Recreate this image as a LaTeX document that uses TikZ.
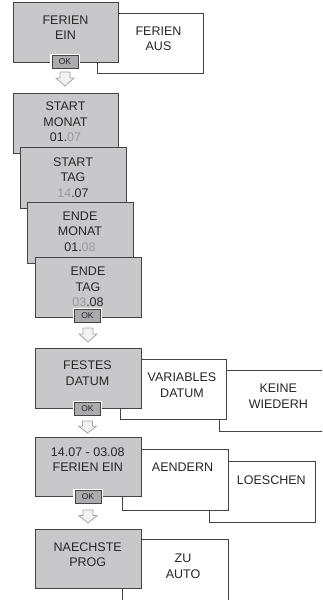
\documentclass[tikz,border=0pt]{standalone}
\usepackage{fontspec}
\setmainfont{Liberation Sans}
\definecolor{boxgray}{HTML}{C8C8CA}
\definecolor{okgray}{HTML}{ABABAD}
\definecolor{edge}{HTML}{444444}
\definecolor{txt}{HTML}{262626}
\definecolor{dim}{HTML}{9A9A9A}
\definecolor{arrowgray}{HTML}{A6A6A6}
\definecolor{arrowfill}{HTML}{F2F2F2}
\tikzset{
  panel/.style={draw=edge, line width=0.9pt, inner sep=0pt, outer sep=0pt},
  gbox/.style={panel, fill=boxgray},
  wbox/.style={panel, fill=white},
  lbl/.style={inner sep=0pt, align=center, font=\fontsize{12.5}{15.5}\selectfont, text=txt},
  okbtn/.style={fill=okgray, draw=edge, line width=0.7pt, inner sep=0pt,
    minimum width=26pt, minimum height=12.5pt, font=\fontsize{8.5}{9}\selectfont, text=txt,
    preaction={draw=white, line width=3.5pt}},
  arr/.style={draw=arrowgray, fill=arrowfill, line width=0.8pt, line join=miter}
}
\newcommand\dnarrow[3]{%
  \draw[arr] ({#1-5},#2) -- ({#1+5},#2) -- ({#1+5},{#2+#3*0.43}) -- ({#1+9},{#2+#3*0.43})
    -- (#1,{#2+#3}) -- ({#1-9},{#2+#3*0.43}) -- ({#1-5},{#2+#3*0.43}) -- cycle;}
\begin{document}
\begin{tikzpicture}[x=1pt,y=-1pt]
\useasboundingbox (0,0) rectangle (322,600);
\clip (0,0) rectangle (322,600);
% row 1
\node[wbox, minimum width=106pt, minimum height=60pt] (ferienausbox) at (150,43) {};
\node[gbox, minimum width=105pt, minimum height=60pt] (ferieneinbox) at (65.5,32) {};
\node[lbl] (ferienein) at (65.5,27.5) {FERIEN\\EIN};
\node[lbl] (ferienaus) at (158.5,39) {FERIEN\\AUS};
\node[okbtn] (ok1) at (65,62) {OK};
\dnarrow{65}{72}{14}
% stacked date boxes
\node[gbox, minimum width=105pt, minimum height=60pt] (smbox) at (65.5,123) {};
\node[lbl] (sm) at (65.5,122) {START\\MONAT\\01.{\color{dim}07}};
\node[gbox, minimum width=106pt, minimum height=61pt] (stbox) at (73,177.5) {};
\node[lbl] (st) at (73,177.2) {START\\TAG\\{\color{dim}14}.07};
\node[gbox, minimum width=106pt, minimum height=61pt] (embox) at (80,232.5) {};
\node[lbl] (em) at (80,231.7) {ENDE\\MONAT\\01.{\color{dim}08}};
\node[gbox, minimum width=106pt, minimum height=60pt] (etbox) at (88,287) {};
\node[lbl] (et) at (88,287.2) {ENDE\\TAG\\{\color{dim}03}.08};
\node[okbtn] (ok2) at (87.5,316) {OK};
\dnarrow{88}{328}{14}
% datum row
\node[wbox, minimum width=106pt, minimum height=61pt] (keinebox) at (272,400.5) {};
\node[wbox, minimum width=106pt, minimum height=60pt] (varbox) at (173,389) {};
\node[gbox, minimum width=106pt, minimum height=60pt] (festbox) at (88,378) {};
\node[lbl] (fest) at (87.5,373.2) {FESTES\\DATUM};
\node[lbl] (var) at (182,385) {VARIABLES\\DATUM};
\node[lbl] (keine) at (278.3,396.3) {KEINE\\WIEDERH};
\node[okbtn] (ok3) at (87.5,409) {OK};
\dnarrow{87.5}{421}{12}
% ferien row
\node[wbox, minimum width=106pt, minimum height=61pt] (loeschbox) at (262,491.5) {};
\node[wbox, minimum width=106pt, minimum height=61pt] (aendbox) at (175,479.5) {};
\node[gbox, minimum width=106pt, minimum height=59pt] (ferbox) at (88,466.5) {};
\node[lbl] (fer) at (87.8,459.7) {14.07 - 03.08\\FERIEN EIN};
\node[lbl] (aend) at (182.5,467) {AENDERN};
\node[lbl] (loesch) at (271.3,480) {LOESCHEN};
\node[okbtn] (ok4) at (88,497) {OK};
\dnarrow{88}{510}{13}
% last row
\node[wbox, minimum width=106pt, minimum height=61pt] (autobox) at (175,569.5) {};
\node[gbox, minimum width=106pt, minimum height=59pt] (naechbox) at (88,558.5) {};
\node[lbl] (naech) at (87.7,554.5) {NAECHSTE\\PROG};
\node[lbl] (auto) at (183,566.3) {ZU\\AUTO};
\end{tikzpicture}
\end{document}
